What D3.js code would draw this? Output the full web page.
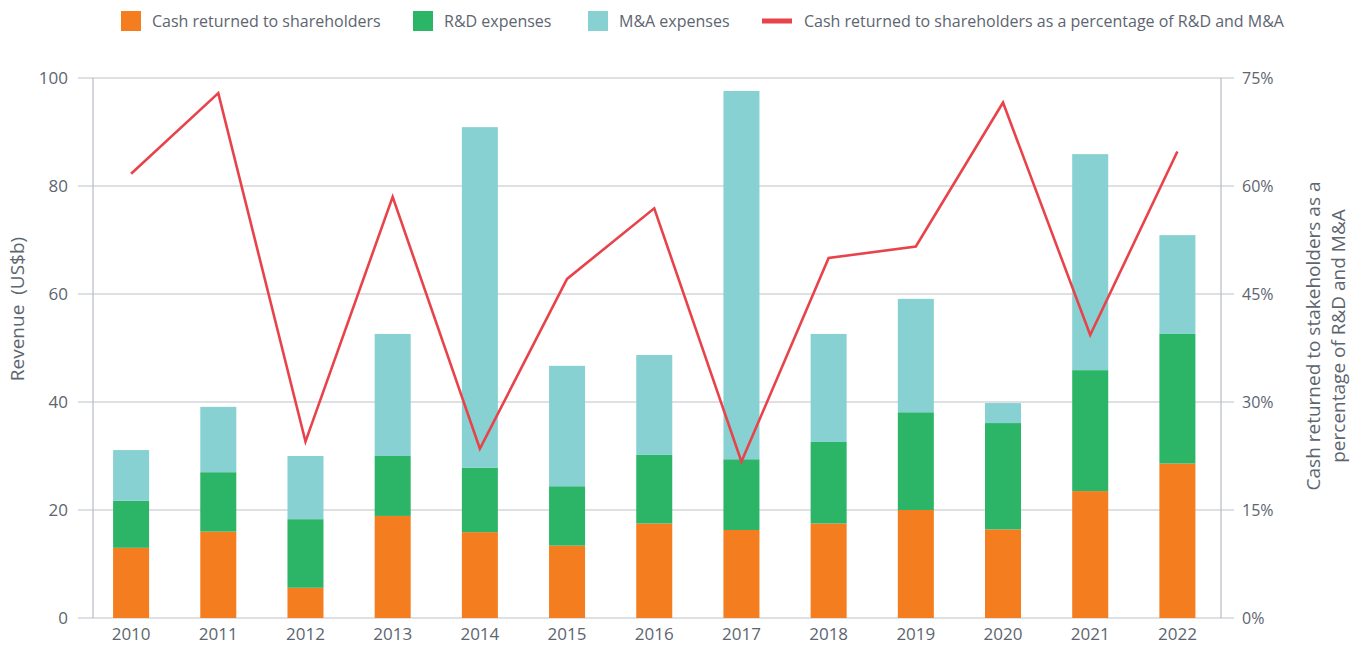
<!DOCTYPE html>
<html>
<head>
<meta charset="utf-8">
<script src="https://cdn.jsdelivr.net/npm/d3@7"></script>
<style>
  body { margin: 0; background: #fff; }
  text { font-family: "Open Sans", "Liberation Sans", sans-serif; fill: #5d6570; }
</style>
</head>
<body>
<svg id="chart" width="1366" height="648"></svg>
<script>
// values
const years = ["2010", "2011", "2012", "2013", "2014", "2015", "2016", "2017", "2018", "2019", "2020", "2021", "2022"];
const cashReturned = [13, 16, 5.6, 18.9, 15.9, 13.4, 17.5, 16.3, 17.5, 20, 16.4, 23.5, 28.6];
const rdExpenses = [8.7, 11.0, 12.7, 11.1, 11.9, 11.0, 12.7, 13.1, 15.1, 18.1, 19.7, 22.4, 24.0];
const maExpenses = [9.4, 12.1, 11.7, 22.6, 63.1, 22.3, 18.5, 68.2, 20.0, 21.0, 3.7, 40.0, 18.3];
const cashPct = [61.7, 72.9, 24.5, 58.5, 23.5, 47.1, 56.9, 21.7, 50.0, 51.6, 71.6, 39.3, 64.8];
const leftTicks = [0, 20, 40, 60, 80, 100];
const rightTicks = [0, 15, 30, 45, 60, 75];
const seriesNames = ["Cash returned to shareholders", "R&D expenses", "M&A expenses"];
const lineName = "Cash returned to shareholders as a percentage of R&D and M&A";

const colors = ["#f47d20", "#2cb467", "#87d1d2"];
const lineColor = "#e8434a";

const svg = d3.select("#chart");
const plotLeft = 93, plotRight = 1221, plotTop = 78, plotBottom = 618;

const x = d3.scaleBand()
    .domain(years)
    .range([87.5, 1221])
    .paddingInner(0.587)
    .paddingOuter(0.2935);
const y = d3.scaleLinear().domain([0, 100]).range([plotBottom, plotTop]);
const y2 = d3.scaleLinear().domain([0, 75]).range([plotBottom, plotTop]);

// gridlines
svg.append("g")
    .selectAll("line")
    .data(leftTicks)
    .join("line")
    .attr("x1", 78).attr("x2", 1234)
    .attr("y1", d => y(d)).attr("y2", d => y(d))
    .attr("stroke", "#d3d6da")
    .attr("stroke-width", 1.5);

// axis lines
svg.append("line")
    .attr("x1", plotLeft).attr("x2", plotLeft)
    .attr("y1", plotTop).attr("y2", plotBottom)
    .attr("stroke", "#b6bcc4").attr("stroke-width", 1.2);
svg.append("line")
    .attr("x1", plotRight).attr("x2", plotRight)
    .attr("y1", plotTop).attr("y2", plotBottom)
    .attr("stroke", "#b6bcc4").attr("stroke-width", 1.2);

// left axis labels
const leftAxis = d3.axisLeft(y).tickValues(leftTicks).tickSize(0).tickPadding(0);
svg.append("g")
    .attr("transform", `translate(68,0)`)
    .call(leftAxis)
    .call(g => g.select(".domain").remove())
    .selectAll("text")
    .style("font-size", "17px")
    .attr("fill", "#5d6570");

// right axis labels
const rightAxis = d3.axisRight(y2).tickValues(rightTicks).tickSize(0).tickPadding(0)
    .tickFormat(d => d + "%");
svg.append("g")
    .attr("transform", `translate(1242,0)`)
    .call(rightAxis)
    .call(g => g.select(".domain").remove())
    .selectAll("text")
    .style("font-size", "16px")
    .attr("fill", "#5d6570");

// x axis labels
const xAxis = d3.axisBottom(x).tickSize(0).tickPadding(0);
svg.append("g")
    .attr("transform", `translate(0,${plotBottom + 10})`)
    .call(xAxis)
    .call(g => g.select(".domain").remove())
    .selectAll("text")
    .style("font-size", "17px")
    .attr("fill", "#5d6570");

// stacked bars
const rows = years.map((yr, i) => ({ year: yr, cash: cashReturned[i], rd: rdExpenses[i], ma: maExpenses[i] }));
const stack = d3.stack().keys(["cash", "rd", "ma"]);
const layers = stack(rows);

svg.append("g")
    .selectAll("g")
    .data(layers)
    .join("g")
    .attr("fill", (d, i) => colors[i])
    .selectAll("rect")
    .data(d => d)
    .join("rect")
    .attr("x", d => x(d.data.year))
    .attr("width", x.bandwidth())
    .attr("y", d => y(d[1]))
    .attr("height", d => y(d[0]) - y(d[1]));

// percentage line
const line = d3.line()
    .x((d, i) => x(years[i]) + x.bandwidth() / 2)
    .y(d => y2(d));
svg.append("path")
    .datum(cashPct)
    .attr("d", line)
    .attr("fill", "none")
    .attr("stroke", lineColor)
    .attr("stroke-width", 2.6)
    .attr("stroke-linejoin", "miter");

// axis titles
svg.append("text")
    .attr("transform", "translate(24,309) rotate(-90)")
    .attr("text-anchor", "middle")
    .style("font-size", "19px")
    .style("white-space", "pre")
    .text("Revenue  (US$b)");

const rightTitle = svg.append("text")
    .attr("transform", "translate(1320,336) rotate(-90)")
    .attr("text-anchor", "middle")
    .style("font-size", "19px");
rightTitle.append("tspan").attr("x", 0).attr("dy", 0).text("Cash returned to stakeholders as a");
rightTitle.append("tspan").attr("x", 0).attr("dy", 25).text("percentage of R&D and M&A");

// legend
const legendX = [121, 413, 588];
const legend = svg.append("g");
seriesNames.forEach((name, i) => {
    legend.append("rect")
        .attr("x", legendX[i]).attr("y", 11)
        .attr("width", 20).attr("height", 20)
        .attr("fill", colors[i]);
    legend.append("text")
        .attr("x", legendX[i] + 31).attr("y", 27)
        .style("font-size", "16px")
        .text(name);
});
legend.append("rect")
    .attr("x", 762).attr("y", 18.5)
    .attr("width", 30).attr("height", 5)
    .attr("fill", lineColor);
legend.append("text")
    .attr("x", 804).attr("y", 27)
    .style("font-size", "16px")
    .text(lineName);
</script>
</body>
</html>
